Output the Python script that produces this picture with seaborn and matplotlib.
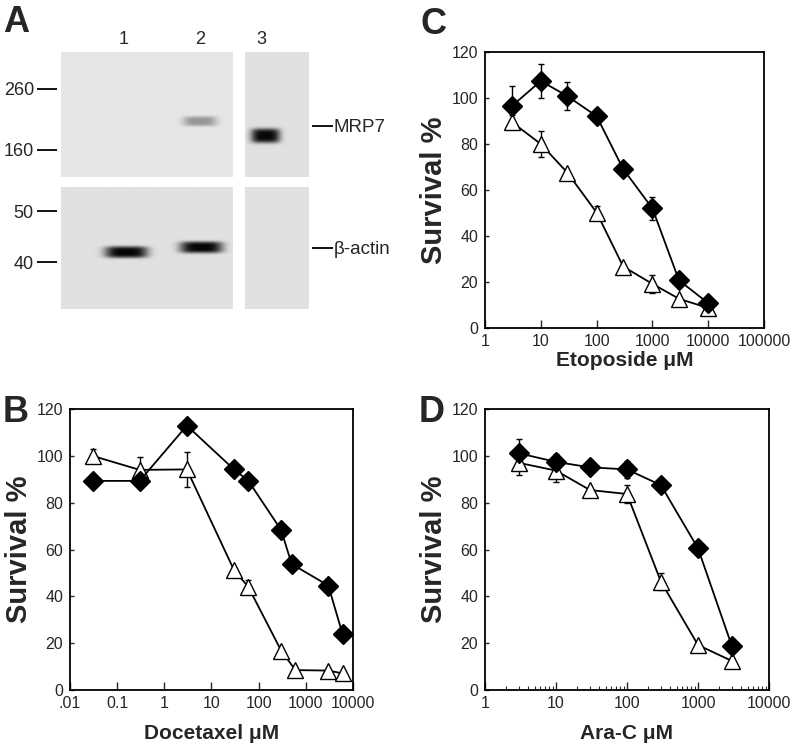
import matplotlib
matplotlib.use('Agg')
import matplotlib.pyplot as plt
import numpy as np
import seaborn as sns

# ---- panel A: western blot (lanes, marker sizes, bands) ----
lane_labels = ['1', '2', '3']
top_markers = [260, 160]
bottom_markers = [50, 40]
top_band_lane = [2.0, 3.05]
top_band_kda = [201, 179]
top_band_strength = [0.35, 0.97]
bottom_band_lane = [1.03, 2.02]
bottom_band_kda = [41.8, 42.7]
bottom_band_strength = [0.98, 0.98]
mrp7_kda = 194
actin_kda = 42.6

# ---- panel B: docetaxel ----
doc_conc_res = [0.03, 0.3, 3, 30, 60, 300, 500, 3000, 6000]
doc_res = [89.3, 89.3, 112.9, 94.2, 89.4, 68.3, 53.8, 44.6, 23.9]
doc_res_err = [0, 0, 0, 2, 0, 0, 0, 0, 0]
doc_conc_sen = [0.03, 0.3, 3, 30, 60, 300, 600, 3000, 6000]
doc_sen = [100, 94, 94.2, 51.2, 44.1, 16.8, 8.5, 8.3, 7.1]
doc_sen_err = [3, 5.5, 7.5, 0, 3, 0, 0, 0, 0]

# ---- panel C: etoposide ----
eto_conc = [3, 10, 30, 100, 300, 1000, 3000, 10000]
eto_res = [96.4, 107.4, 100.8, 92.1, 69.1, 52.0, 20.7, 10.8]
eto_res_err = [9, 7.5, 6, 0, 0, 5, 0, 0]
eto_sen = [89.6, 80.0, 67.5, 50.2, 26.7, 19.2, 12.7, 8.7]
eto_sen_err = [3, 5.5, 0, 3, 0, 4, 0, 0]

# ---- panel D: Ara-C ----
ara_conc = [3, 10, 30, 100, 300, 1000, 3000]
ara_res = [101.1, 97.4, 95.1, 94.2, 87.5, 60.5, 18.8]
ara_res_err = [6, 3.5, 2.5, 3.5, 0, 0, 0]
ara_sen = [97.0, 93.7, 85.4, 83.7, 46.3, 19.2, 12.4]
ara_sen_err = [5, 5, 0, 4, 3.5, 0, 0]

sns.set_theme(style='ticks')
plt.rcParams['font.family'] = ['Liberation Sans', 'DejaVu Sans']

fig = plt.figure(figsize=(8, 7.47), dpi=100)
W, H = 800, 747


def px_axes(x0, y0, x1, y1):
    return fig.add_axes([x0 / W, 1 - y1 / H, (x1 - x0) / W, (y1 - y0) / H])


def blot(ax, xlim, ylim, lanes, kdas, strengths, half_w, half_h, bg):
    xs = np.linspace(xlim[0], xlim[1], 300)
    ys = np.linspace(ylim[0], ylim[1], 300)
    X, Y = np.meshgrid(xs, ys)
    img = np.full(X.shape, bg)
    for ln, kd, st in zip(lanes, kdas, strengths):
        if not (xlim[0] < ln < xlim[1]):
            continue
        dx = (X - ln) / half_w
        dy = (Y - np.log10(kd)) / half_h
        img -= st * bg * np.exp(-dx ** 4 - dy ** 4)
    img = np.clip(img, 0, 1)
    ax.imshow(img, cmap='gray', vmin=0, vmax=1, origin='lower',
              extent=[xlim[0], xlim[1], ylim[0], ylim[1]], aspect='auto',
              interpolation='bilinear')
    ax.set_xlim(xlim)
    ax.set_ylim(ylim)
    for s in ax.spines.values():
        s.set_visible(False)
    ax.set_xticks([])
    ax.set_yticks([])


xl_left = (0.171, 2.434)
xl_right = (2.78, 3.62)
yl_top = (2.110, 2.543)
yl_bot = (1.513, 1.745)

ax_tl = px_axes(61, 52, 233, 177)
ax_tr = px_axes(245, 52, 309, 177)
ax_bl = px_axes(61, 187, 233, 309)
ax_br = px_axes(245, 187, 309, 309)

blot(ax_tl, xl_left, yl_top, top_band_lane, top_band_kda, top_band_strength, 0.22, 0.017, 0.90)
blot(ax_tr, xl_right, yl_top, top_band_lane, top_band_kda, top_band_strength, 0.19, 0.025, 0.88)
blot(ax_bl, xl_left, yl_bot, bottom_band_lane, bottom_band_kda, bottom_band_strength, 0.28, 0.011, 0.88)
blot(ax_br, xl_right, yl_bot, bottom_band_lane, bottom_band_kda, bottom_band_strength, 0.25, 0.011, 0.88)

# lane numbers
ax_tl.xaxis.tick_top()
ax_tl.set_xticks([1, 2], lane_labels[:2])
ax_tr.xaxis.tick_top()
ax_tr.set_xticks([3], lane_labels[2:])
for a in (ax_tl, ax_tr):
    a.tick_params(axis='x', length=0, pad=3, labelsize=13)

# molecular weight markers
for a, marks in ((ax_tl, top_markers), (ax_bl, bottom_markers)):
    a.spines['left'].set_position(('outward', 3))
    a.set_yticks(np.log10(marks), [str(m) for m in marks])
    a.tick_params(axis='y', direction='out', length=14.5, width=1.3, pad=2,
                  labelsize=13, color='black')

for a, kd, lab in ((ax_tr, mrp7_kda, 'MRP7'), (ax_br, actin_kda, 'β-actin')):
    a.yaxis.tick_right()
    a.spines['right'].set_position(('outward', 2))
    a.set_yticks([np.log10(kd)], [lab])
    a.tick_params(axis='y', direction='out', length=15, width=1.3, pad=0.5,
                  labelsize=13.5, color='black')


def curve_panel(ax, conc_r, res, res_err, conc_s, sen, sen_err, xlim, xticks,
                xticklabels, xlabel, xlab_pad):
    ax.errorbar(conc_s, sen, yerr=sen_err, fmt='none', ecolor='black',
                elinewidth=1, capsize=2.5, capthick=1, zorder=2)
    ax.errorbar(conc_r, res, yerr=res_err, fmt='none', ecolor='black',
                elinewidth=1, capsize=2.5, capthick=1, zorder=2)
    sns.lineplot(x=conc_s, y=sen, ax=ax, sort=False, estimator=None, color='black',
                 marker='^', markersize=12, markerfacecolor='white',
                 markeredgecolor='black', markeredgewidth=1, linewidth=1.3, zorder=3)
    sns.lineplot(x=conc_r, y=res, ax=ax, sort=False, estimator=None, color='black',
                 marker='D', markersize=10, markerfacecolor='black',
                 markeredgecolor='black', markeredgewidth=1, linewidth=1.3, zorder=4)
    ax.set_xscale('log')
    ax.set_xlim(xlim)
    ax.set_ylim(0, 120)
    ax.set_xticks(xticks, xticklabels)
    ax.set_yticks(range(0, 121, 20))
    ax.tick_params(axis='x', which='major', direction='in', length=5.5, width=1, pad=4.5,
                   labelsize=11.5)
    ax.tick_params(axis='x', which='minor', direction='in', length=3, width=0.8)
    ax.tick_params(axis='y', which='major', direction='in', length=3, width=1, pad=5,
                   labelsize=11.5)
    for s in ax.spines.values():
        s.set_linewidth(1.3)
        s.set_color('black')
    ax.set_xlabel(xlabel, fontsize=15, fontweight='bold', labelpad=xlab_pad)
    ax.set_ylabel('Survival %', fontsize=21, fontweight='bold', labelpad=2.5)


ax_c = px_axes(485, 52, 764, 328)
curve_panel(ax_c, eto_conc, eto_res, eto_res_err, eto_conc, eto_sen, eto_sen_err,
            (1, 1e5), [1, 10, 100, 1000, 10000, 100000],
            ['1', '10', '100', '1000', '10000', '100000'], 'Etoposide μM', 1.5)

ax_b = px_axes(70, 409, 353, 690)
curve_panel(ax_b, doc_conc_res, doc_res, doc_res_err, doc_conc_sen, doc_sen, doc_sen_err,
            (0.01, 1e4), [0.01, 0.1, 1, 10, 100, 1000, 10000],
            ['.01', '0.1', '1', '10', '100', '1000', '10000'], 'Docetaxel μM', 9.5)

ax_d = px_axes(485, 409, 769, 690)
curve_panel(ax_d, ara_conc, ara_res, ara_res_err, ara_conc, ara_sen, ara_sen_err,
            (1, 1e4), [1, 10, 100, 1000, 10000],
            ['1', '10', '100', '1000', '10000'], 'Ara-C μM', 9.5)

# panel letters
for lab, x, y in (('A', 3, 22), ('C', 420, 25), ('B', 3, 413), ('D', 419, 413)):
    fig.text(x / W, 1 - y / H, lab, fontsize=26, fontweight='bold',
             ha='left', va='center')

fig.savefig('out.png', dpi=100)
